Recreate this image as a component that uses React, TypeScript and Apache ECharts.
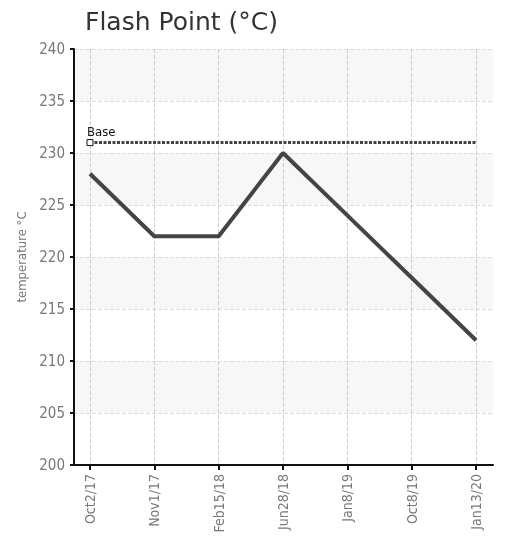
import React, { useEffect, useRef } from "react";
import * as echarts from "echarts";

const categories = ["Oct2/17", "Nov1/17", "Feb15/18", "Jun28/18", "Jan8/19", "Oct8/19", "Jan13/20"];
const flashPoint = [228, 222, 222, 230, 224, 218, 212];
const baseValue = 231;
const yMin = 200;
const yMax = 240;
const yStep = 5;

const FONT = '"DejaVu Sans Condensed", "Liberation Sans Narrow", "Roboto", sans-serif';

export default function App() {
  const ref = useRef<HTMLDivElement>(null);
  useEffect(() => {
    if (!ref.current) return;
    const chart = echarts.init(ref.current, null, { renderer: "svg" });
    const baseData = categories.map((_, i) =>
      i === 0
        ? {
            value: baseValue,
            symbol: "rect",
            symbolSize: 6,
            itemStyle: { color: "#fff", borderColor: "#111", borderWidth: 1 },
            label: {
              show: true,
              formatter: "Base",
              position: "top",
              align: "left",
              offset: [-3, 0],
              color: "#111",
              fontSize: 13,
              fontFamily: FONT,
              distance: 1,
            },
          }
        : { value: baseValue, symbol: "none" }
    );
    chart.setOption({
      animation: false,
      title: {
        text: "Flash Point (°C)",
        left: 80,
        top: 4,
        textStyle: { fontSize: 25, fontWeight: "normal", color: "#333", fontFamily: "DejaVu Sans" },
      },
      grid: [
        { left: 74, right: 16, top: 49, bottom: 80 },
        { left: 90, right: 33, top: 49, bottom: 80 },
      ],
      xAxis: [
        {
          type: "value",
          gridIndex: 0,
          min: 0,
          max: 1,
          axisLine: { show: true, lineStyle: { color: "#111", width: 2 } },
          axisTick: { show: false },
          axisLabel: { show: false },
          splitLine: { show: false },
        },
        {
          type: "category",
          gridIndex: 1,
          data: categories,
          boundaryGap: false,
          axisLine: { show: false },
          axisTick: { show: true, length: 5, lineStyle: { color: "#111", width: 2 } },
          axisLabel: { rotate: 90, color: "#777", fontSize: 14, fontFamily: FONT, margin: 9 },
          splitLine: { show: true, lineStyle: { color: "#ccc", type: "dashed", width: 1 } },
        },
      ],
      yAxis: [
        {
          type: "value",
          gridIndex: 0,
          min: yMin,
          max: yMax,
          interval: yStep,
          name: "temperature °C",
          nameLocation: "middle",
          nameGap: 35,
          nameTextStyle: { color: "#777", fontSize: 13, fontFamily: FONT },
          axisLine: { show: true, lineStyle: { color: "#111", width: 2 } },
          axisTick: { show: true, length: 4, lineStyle: { color: "#111", width: 2 } },
          axisLabel: { color: "#777", fontSize: 15, fontFamily: FONT, margin: 9 },
          splitLine: { show: true, lineStyle: { color: "#ddd", type: "dashed", width: 1 } },
          splitArea: { show: true, areaStyle: { color: ["rgba(255,255,255,0)", "#f7f7f7"] } },
        },
        {
          type: "value",
          gridIndex: 1,
          min: yMin,
          max: yMax,
          interval: yStep,
          show: false,
          splitLine: { show: false },
        },
      ],
      series: [
        {
          name: "Base",
          type: "line",
          xAxisIndex: 1,
          yAxisIndex: 1,
          data: baseData,
          lineStyle: { color: "#444", width: 3, type: [3, 1.5] },
          z: 3,
        },
        {
          name: "Flash Point",
          type: "line",
          xAxisIndex: 1,
          yAxisIndex: 1,
          data: flashPoint,
          symbol: "none",
          lineStyle: { color: "#444", width: 4 },
          z: 4,
        },
      ],
    });
    return () => chart.dispose();
  }, []);
  return <div ref={ref} style={{ position: "fixed", left: 0, top: 0, width: 509, height: 545 }} />;
}
